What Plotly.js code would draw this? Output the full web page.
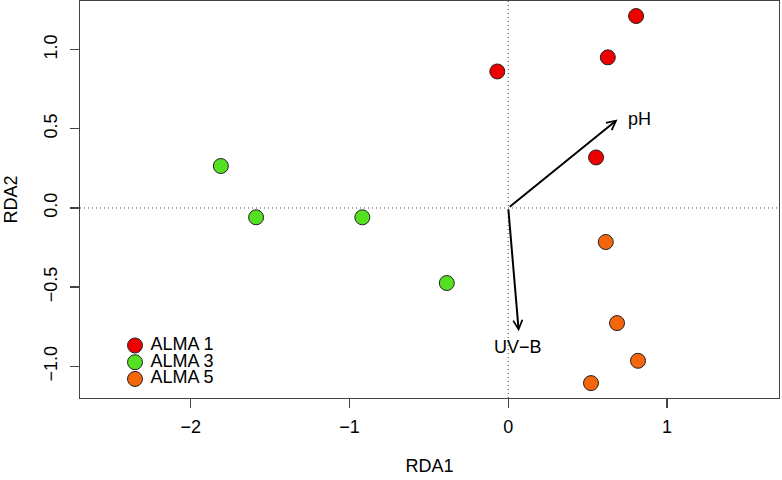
<!DOCTYPE html>
<html>
<head>
<meta charset="utf-8">
<script src="https://cdn.plot.ly/plotly-3.0.1.min.js"></script>
<style>html,body{margin:0;padding:0;background:#fff}#chart{width:782px;height:480px}</style>
</head>
<body>
<div id="chart"></div>
<script>
// ---- data ----
var groups = ['ALMA 1', 'ALMA 3', 'ALMA 5'];
var groupColors = ['#EE0000', '#55E022', '#F4650C'];

var alma1X = [0.805, 0.627, -0.069, 0.553];
var alma1Y = [1.212, 0.951, 0.862, 0.319];

var alma3X = [-1.810, -1.588, -0.919, -0.387];
var alma3Y = [0.265, -0.059, -0.059, -0.474];

var alma5X = [0.614, 0.685, 0.817, 0.521];
var alma5Y = [-0.215, -0.727, -0.965, -1.106];

var envVars = ['pH', 'UV\u2212B'];
var envX = [0.688, 0.066];
var envY = [0.559, -0.779];
var envLabX = [0.824, 0.064];
var envLabY = [0.561, -0.879];

var xTicks = [-2, -1, 0, 1];
var yTicks = [-1.0, -0.5, 0.0, 0.5, 1.0];

// ---- build ----
var FONT = 'Liberation Sans, Arial, Helvetica, sans-serif';
var seriesX = [alma1X, alma3X, alma5X];
var seriesY = [alma1Y, alma3Y, alma5Y];

var traces = [];
// legend drawn on an overlay axis pair, one row per group
var legX = groups.map(function () { return 0; });
var legY = groups.map(function (_, i) { return -i; });
traces.push({
  type: 'scatter', mode: 'markers+text', xaxis: 'x2', yaxis: 'y2',
  x: legX, y: legY, text: groups.map(function (s) { return '\u00A0' + s; }), textposition: 'middle right',
  textfont: {family: FONT, size: 18, color: '#000'},
  marker: {size: 15, color: groupColors, line: {color: '#222', width: 1}},
  showlegend: false, hoverinfo: 'text', cliponaxis: false
});
for (var g = 0; g < groups.length; g++) {
  traces.push({
    type: 'scatter', mode: 'markers', name: groups[g],
    x: seriesX[g], y: seriesY[g],
    marker: {size: 15, color: groupColors[g], line: {color: '#222', width: 1}},
    showlegend: false, hoverinfo: 'x+y+name'
  });
}

var annotations = [];
for (var i = 0; i < envVars.length; i++) {
  annotations.push({
    x: envX[i], y: envY[i], xref: 'x', yref: 'y',
    ax: 0, ay: 0, axref: 'x', ayref: 'y',
    text: '', showarrow: true, arrowhead: 5, arrowsize: 0.9,
    arrowwidth: 2, arrowcolor: '#000', standoff: 0, startstandoff: 0
  });
  annotations.push({
    x: envLabX[i], y: envLabY[i], xref: 'x', yref: 'y',
    text: envVars[i], showarrow: false,
    xanchor: 'center', yanchor: 'middle',
    font: {family: FONT, size: 18, color: '#000'}
  });
}

var layout = {
  width: 782, height: 480,
  margin: {l: 80, r: 3, t: 1, b: 82, pad: 0},
  paper_bgcolor: '#fff', plot_bgcolor: '#fff',
  font: {family: FONT, size: 18, color: '#000'},
  showlegend: false,
  xaxis: {
    range: [-2.697, 1.705], tickvals: xTicks, ticktext: xTicks.map(function (v) { return (v < 0 ? '\u2212' : '') + Math.abs(v); }),
    showgrid: false, zeroline: false, showline: true, mirror: true,
    linecolor: '#444', linewidth: 1.3, ticks: 'outside', ticklen: 9, tickcolor: '#444', tickwidth: 1.3,
    tickfont: {family: FONT, size: 18, color: '#000'}, ticklabelstandoff: 3,
    title: {text: 'RDA1', font: {family: FONT, size: 18, color: '#000'}, standoff: 23},
    automargin: false
  },
  yaxis: {
    range: [-1.200, 1.307], tickvals: yTicks, ticktext: yTicks.map(function (v) { return (v < 0 ? '\u2212' : '') + Math.abs(v).toFixed(1); }),
    tickangle: -90,
    showgrid: false, zeroline: false, showline: true, mirror: true,
    linecolor: '#444', linewidth: 1.3, ticks: 'outside', ticklen: 9, tickcolor: '#444', tickwidth: 1.3,
    tickfont: {family: FONT, size: 18, color: '#000'}, ticklabelstandoff: 6,
    title: {text: 'RDA2', font: {family: FONT, size: 18, color: '#000'}, standoff: 18},
    automargin: false
  },
  xaxis2: {overlaying: 'x', range: [-55, 644], anchor: 'y2', visible: false, fixedrange: true},
  yaxis2: {overlaying: 'y', range: [-3.14, 20.6], anchor: 'x2', visible: false, fixedrange: true},
  shapes: [
    {type: 'line', xref: 'x', yref: 'paper', x0: 0, x1: 0, y0: 0, y1: 1, line: {color: '#444', width: 1, dash: '1px,3px'}, layer: 'below'},
    {type: 'line', xref: 'paper', yref: 'y', x0: 0, x1: 1, y0: 0, y1: 0, line: {color: '#444', width: 1, dash: '1px,3px'}, layer: 'below'}
  ],
  annotations: annotations
};

Plotly.newPlot('chart', traces, layout, {displayModeBar: false, staticPlot: true});
</script>
</body>
</html>
